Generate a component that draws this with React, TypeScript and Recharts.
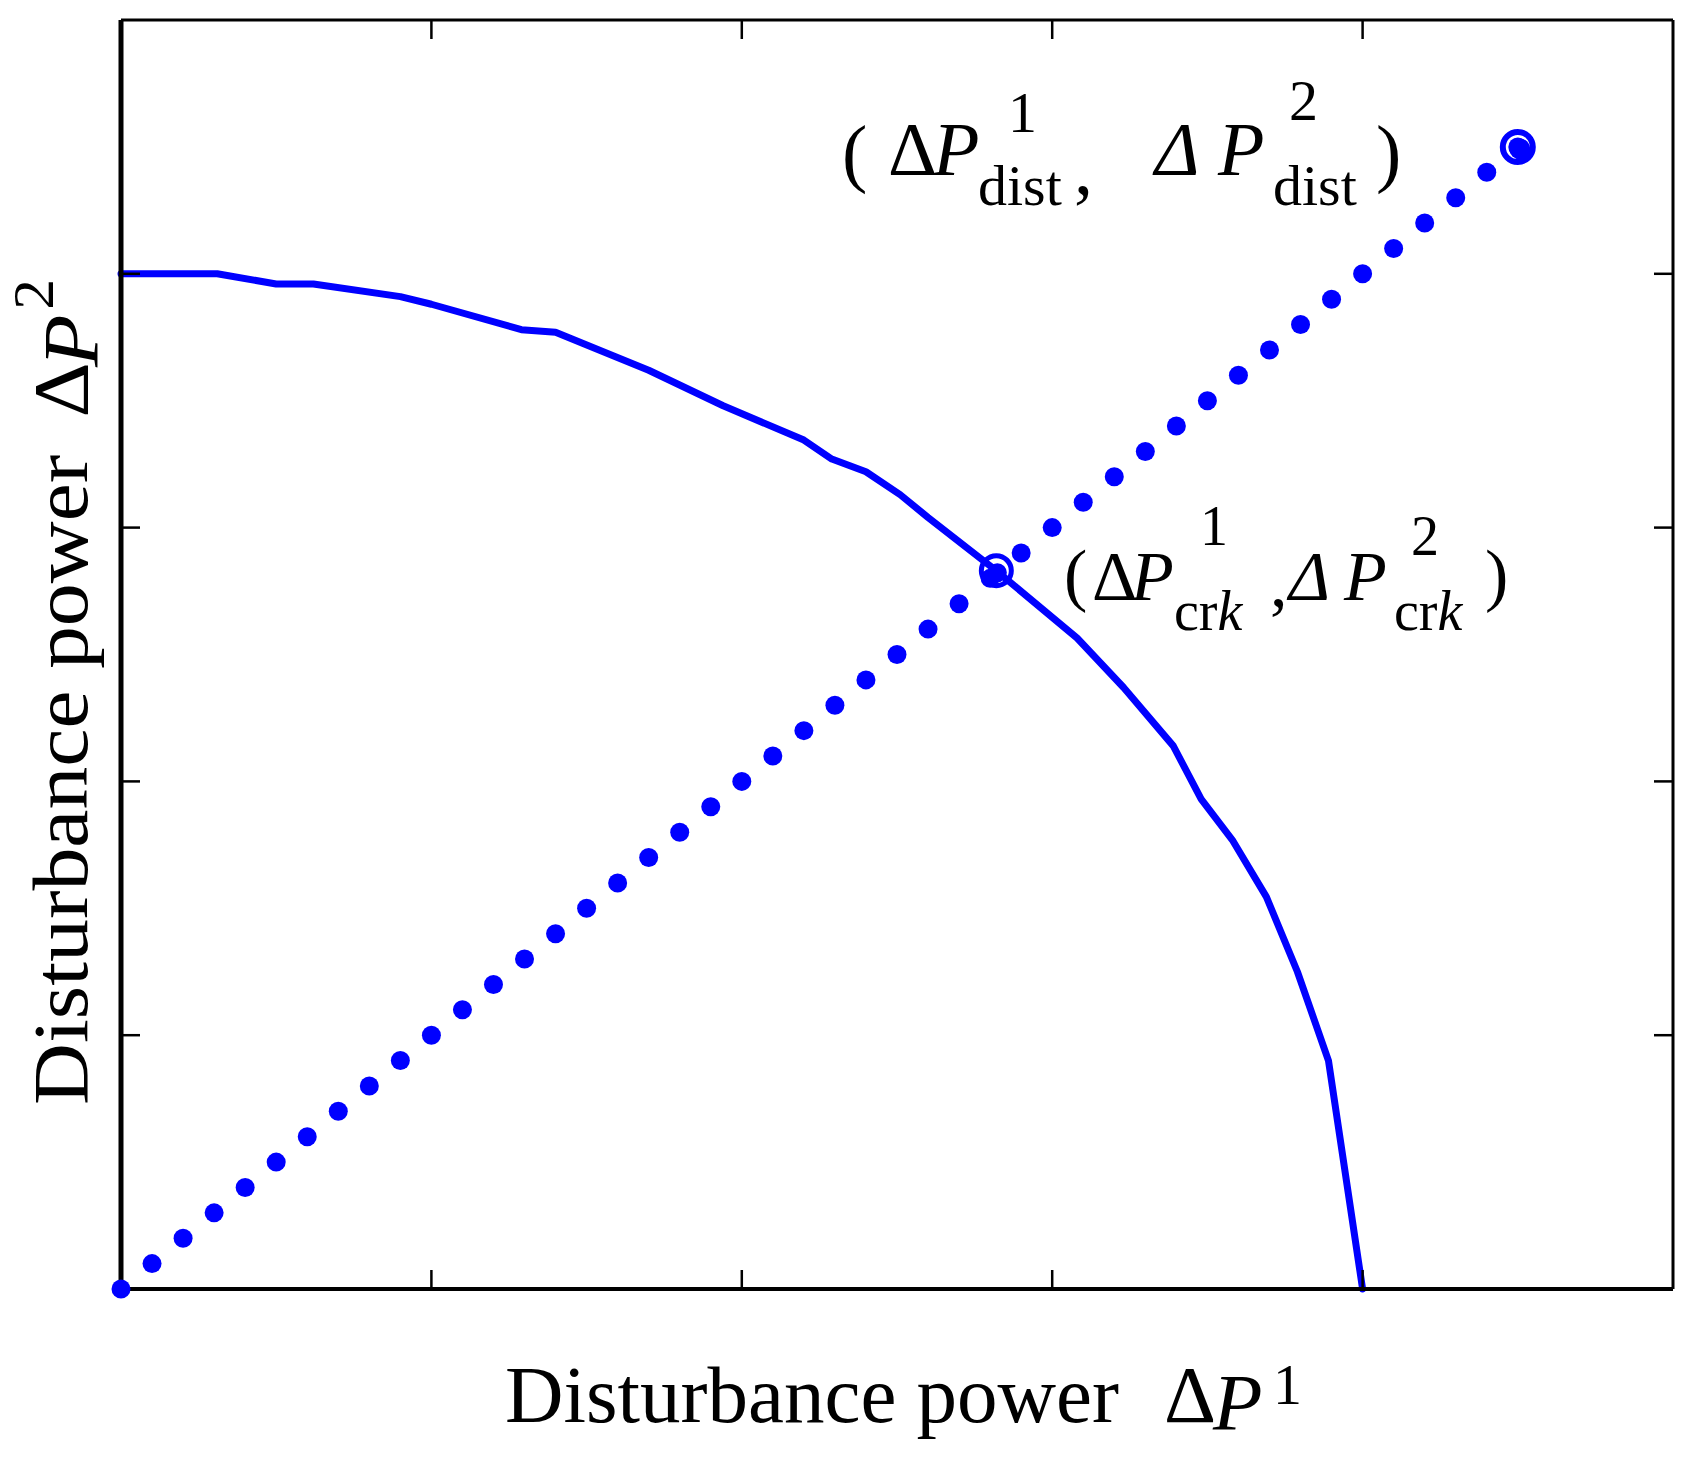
import React from 'react';
import { ComposedChart, Line, Scatter, XAxis, YAxis, ReferenceDot } from 'recharts';

// stability boundary curve
const curveX = [0, 0.31, 0.5, 0.62, 0.9, 1.0, 1.29, 1.4, 1.54, 1.7, 1.94, 2.2, 2.29, 2.4, 2.51, 2.6, 2.82, 3.08, 3.23, 3.39, 3.48, 3.58, 3.69, 3.79, 3.89, 4.0];
const curveY = [4.0, 4.0, 3.96, 3.96, 3.91, 3.88, 3.78, 3.77, 3.7, 3.62, 3.48, 3.345, 3.27, 3.22, 3.13, 3.04, 2.83, 2.565, 2.37, 2.14, 1.93, 1.77, 1.545, 1.25, 0.9, 0];

// dotted ray from origin to the disturbance point
const rayX = [0, 0.1, 0.2, 0.3, 0.4, 0.5, 0.6, 0.7, 0.8, 0.9, 1.0, 1.1, 1.2, 1.3, 1.4, 1.5, 1.6, 1.7, 1.8, 1.9, 2.0, 2.1, 2.2, 2.3, 2.4, 2.5, 2.6, 2.7, 2.8, 2.9, 3.0, 3.1, 3.2, 3.3, 3.4, 3.5, 3.6, 3.7, 3.8, 3.9, 4.0, 4.1, 4.2, 4.3, 4.4, 4.5];
const rayY = [0, 0.1, 0.2, 0.3, 0.4, 0.5, 0.6, 0.7, 0.8, 0.9, 1.0, 1.1, 1.2, 1.3, 1.4, 1.5, 1.6, 1.7, 1.8, 1.9, 2.0, 2.1, 2.2, 2.3, 2.4, 2.5, 2.6, 2.7, 2.8, 2.9, 3.0, 3.1, 3.2, 3.3, 3.4, 3.5, 3.6, 3.7, 3.8, 3.9, 4.0, 4.1, 4.2, 4.3, 4.4, 4.5];

const axisTicks = [1, 2, 3, 4];
const axisDomain = [0, 5];
const crkPoint = { x: 2.82, y: 2.83 };
const distPoint = { x: 4.5, y: 4.5 };

const curve = curveX.map((x, i) => ({ x, y: curveY[i] }));
const ray = rayX.map((x, i) => ({ x, y: rayY[i] }));

const BLUE = '#0000ff';
const FONT = '"Liberation Serif", "Times New Roman", serif';
const TICK_LEN = 19;

const BottomTick = ({ x, y }: any) => <line x1={x} y1={y} x2={x} y2={y - TICK_LEN} stroke="#000" strokeWidth={2.5} />;
const TopTick = ({ x, y }: any) => <line x1={x} y1={y} x2={x} y2={y + TICK_LEN} stroke="#000" strokeWidth={2.5} />;
const LeftTick = ({ x, y }: any) => <line x1={x} y1={y} x2={x + TICK_LEN} y2={y} stroke="#000" strokeWidth={2.5} />;
const RightTick = ({ x, y }: any) => <line x1={x} y1={y} x2={x - TICK_LEN} y2={y} stroke="#000" strokeWidth={2.5} />;

const Dot = ({ cx, cy }: any) => <circle cx={cx} cy={cy} r={9.5} fill={BLUE} />;
// filled centre of the markers sits a little low-right inside the ring
const DistCore = ({ cx, cy }: any) => <circle cx={cx + 2} cy={cy + 2} r={10.5} fill={BLUE} />;
const CrkCore = ({ cx, cy }: any) => <circle cx={cx + 1} cy={cy + 2} r={9.5} fill={BLUE} />;

function Labels() {
  return (
    <svg width={1691} height={1463} style={{ position: 'absolute', left: 0, top: 0, pointerEvents: 'none' }}>
      <g fontFamily={FONT} fill="#000">
        {/* upper annotation */}
        <text x={842} y={178} fontSize={76}>(</text>
        <text x={888} y={175} fontSize={76}>Δ</text>
        <text x={933} y={175} fontSize={76} fontStyle="italic">P</text>
        <text x={1008} y={132} fontSize={58}>1</text>
        <text x={978} y={205} fontSize={58}>dist</text>
        <text x={1074} y={194} fontSize={76}>,</text>
        <text x={1155} y={175} fontSize={76} fontStyle="italic">Δ</text>
        <text x={1218} y={175} fontSize={76} fontStyle="italic">P</text>
        <text x={1289} y={120} fontSize={58}>2</text>
        <text x={1273} y={205} fontSize={58}>dist</text>
        <text x={1376} y={178} fontSize={76}>)</text>

        {/* crossing annotation */}
        <text x={1064} y={598} fontSize={70}>(</text>
        <text x={1092} y={600} fontSize={70}>Δ</text>
        <text x={1131} y={600} fontSize={70} fontStyle="italic">P</text>
        <text x={1200} y={545} fontSize={56}>1</text>
        <text x={1174} y={630} fontSize={56}>cr<tspan fontStyle="italic">k</tspan></text>
        <text x={1270} y={606} fontSize={70}>,</text>
        <text x={1289} y={600} fontSize={70} fontStyle="italic">Δ</text>
        <text x={1344} y={600} fontSize={70} fontStyle="italic">P</text>
        <text x={1411} y={555} fontSize={56}>2</text>
        <text x={1394} y={630} fontSize={56}>cr<tspan fontStyle="italic">k</tspan></text>
        <text x={1485} y={598} fontSize={70}>)</text>

        {/* x axis label */}
        <text x={505} y={1422} fontSize={81}>Disturbance power</text>
        <text x={1164} y={1422} fontSize={81}>Δ</text>
        <text x={1213} y={1430} fontSize={81} fontStyle="italic">P</text>
        <text x={1273} y={1404} fontSize={58}>1</text>

        {/* y axis label */}
        <g transform="translate(87,1105) rotate(-90) scale(1.1,1)">
          <text x={0} y={0} fontSize={78}>Disturbance power</text>
          <text x={625} y={0} fontSize={78}>Δ</text>
          <text x={671} y={10} fontSize={78} fontStyle="italic">P</text>
          <text x={723} y={-34} fontSize={56}>2</text>
        </g>
      </g>
    </svg>
  );
}

export default function App() {
  return (
    <div style={{ position: 'absolute', left: 0, top: 0, width: 1691, height: 1463, background: '#fff' }}>
      <ComposedChart width={1691} height={1463} margin={{ top: 19, right: 17, bottom: 173, left: 120 }}>
        <XAxis xAxisId="b" type="number" dataKey="x" orientation="bottom" domain={axisDomain} ticks={axisTicks}
          height={1} tickSize={0} tickMargin={0} tickLine={false} tick={<BottomTick />} interval={0}
          stroke="#000" axisLine={{ stroke: '#000', strokeWidth: 4 }} />
        <XAxis xAxisId="t" type="number" dataKey="x" orientation="top" domain={axisDomain} ticks={axisTicks}
          height={1} tickSize={0} tickMargin={0} tickLine={false} tick={<TopTick />} interval={0}
          stroke="#000" axisLine={{ stroke: '#000', strokeWidth: 3 }} />
        <YAxis yAxisId="l" type="number" dataKey="y" orientation="left" domain={axisDomain} ticks={axisTicks}
          width={1} tickSize={0} tickMargin={0} tickLine={false} tick={<LeftTick />} interval={0}
          stroke="#000" axisLine={{ stroke: '#000', strokeWidth: 5 }} />
        <YAxis yAxisId="r" type="number" dataKey="y" orientation="right" domain={axisDomain} ticks={axisTicks}
          width={1} tickSize={0} tickMargin={0} tickLine={false} tick={<RightTick />} interval={0}
          stroke="#000" axisLine={{ stroke: '#000', strokeWidth: 3 }} />
        <Line xAxisId="b" yAxisId="l" data={curve} dataKey="y" type="linear" stroke={BLUE} strokeWidth={7}
          strokeLinecap="round" strokeLinejoin="round" dot={false} activeDot={false} isAnimationActive={false} />
        <Scatter xAxisId="t" yAxisId="r" data={ray} dataKey="y" fill={BLUE} shape={<Dot />} isAnimationActive={false} />
        <ReferenceDot xAxisId="b" yAxisId="l" x={crkPoint.x} y={crkPoint.y} r={15} fill="none" stroke={BLUE}
          strokeWidth={5} ifOverflow="visible" />
        <ReferenceDot xAxisId="b" yAxisId="l" x={crkPoint.x} y={crkPoint.y} shape={<CrkCore />} ifOverflow="visible" />
        <ReferenceDot xAxisId="b" yAxisId="l" x={distPoint.x} y={distPoint.y} r={15} fill="none" stroke={BLUE}
          strokeWidth={6} ifOverflow="visible" />
        <ReferenceDot xAxisId="b" yAxisId="l" x={distPoint.x} y={distPoint.y} shape={<DistCore />} ifOverflow="visible" />
      </ComposedChart>
      <Labels />
    </div>
  );
}
